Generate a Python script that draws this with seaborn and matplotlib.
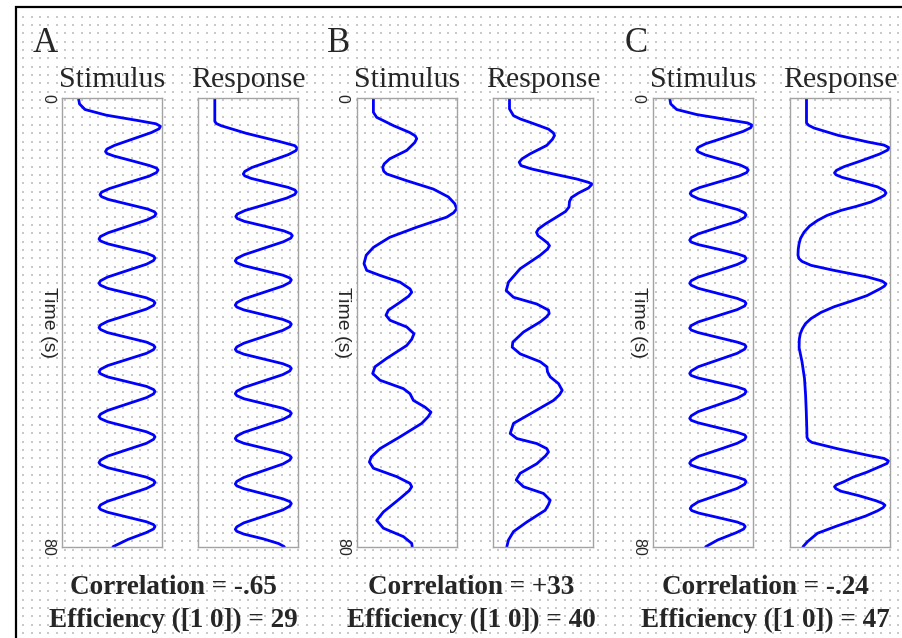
import numpy as np
import pandas as pd
import matplotlib
matplotlib.use("Agg")
import matplotlib.pyplot as plt
import seaborn as sns

# ---------------------------------------------------------------------------
# Time courses (time in s, signal in arbitrary units on a 0-100 scale)
# ---------------------------------------------------------------------------

# Design A: fast regular alternation
stim_a_t = [0, 1.0, 2.0, 3.0, 4.0, 4.55, 5.0,
            5.45, 6.1, 7.25, 8.4, 9.05, 9.5,
            9.85, 10.3, 11.15, 12.0, 12.45, 12.8,
            13.25, 13.9, 15.0, 16.1, 16.75, 17.2,
            17.55, 18.05, 18.9, 19.75, 20.25, 20.6,
            21.05, 21.7, 22.85, 24.0, 24.65, 25.1,
            25.45, 25.95, 26.8, 27.65, 28.15, 28.5,
            28.95, 29.6, 30.75, 31.9, 32.55, 33.0,
            33.35, 33.9, 34.75, 35.6, 36.15, 36.5,
            36.95, 37.6, 38.7, 39.8, 40.45, 40.9,
            41.25, 41.8, 42.65, 43.5, 44.05, 44.4,
            44.85, 45.5, 46.6, 47.7, 48.35, 48.8,
            49.15, 49.7, 50.55, 51.4, 51.95, 52.3,
            52.75, 53.4, 54.55, 55.7, 56.35, 56.8,
            57.15, 57.7, 58.6, 59.5, 60.05, 60.4,
            60.85, 61.55, 62.7, 63.85, 64.55, 65.0,
            65.35, 65.9, 66.75, 67.6, 68.15, 68.5,
            68.95, 69.6, 70.75, 71.9, 72.55, 73.0,
            73.35, 73.85, 74.7, 75.55, 76.05, 76.4,
            76.85, 77.5, 78.7, 80.0]
stim_a_v = [16.5, 17.5, 23, 44, 77, 94, 98.5,
            97, 89.5, 71, 52.5, 45, 43.5,
            45, 52, 70, 87.5, 94.5, 96,
            94.5, 87, 67, 47.5, 39.5, 38,
            39.5, 46.5, 66, 85.5, 92.5, 94,
            92.5, 85, 65.5, 46, 38.5, 37,
            38.5, 45.5, 65, 84.5, 91.5, 93,
            91.5, 84.5, 65, 45.5, 38.5, 37,
            38.5, 45.5, 65, 84.5, 91.5, 93,
            91.5, 84.5, 65, 45.5, 38.5, 37,
            38.5, 45.5, 65, 84.5, 91.5, 93,
            91.5, 84.5, 65, 45.5, 38.5, 37,
            38.5, 45.5, 65, 84.5, 91.5, 93,
            91.5, 84.5, 65, 45.5, 38.5, 37,
            38.5, 45.5, 65, 84.5, 91.5, 93,
            91.5, 84.5, 65, 45.5, 38.5, 37,
            38.5, 45.5, 65, 84.5, 91.5, 93,
            91.5, 84.5, 65, 45.5, 38.5, 37,
            38.5, 45.5, 65, 84.5, 91.5, 93,
            91.5, 84, 66, 51]

resp_a_t = [0, 4.1, 4.5, 4.9, 6.25, 7.7, 8.45, 8.9,
            9.35, 10.05, 11.2, 12.35, 13.05, 13.5,
            13.85, 14.3, 15.1, 15.9, 16.35, 16.7,
            17.15, 17.8, 18.9, 20.0, 20.65, 21.1,
            21.45, 21.95, 22.8, 23.65, 24.15, 24.5,
            24.95, 25.6, 26.75, 27.9, 28.55, 29.0,
            29.35, 29.85, 30.7, 31.55, 32.05, 32.4,
            32.85, 33.5, 34.65, 35.8, 36.45, 36.9,
            37.25, 37.75, 38.6, 39.45, 39.95, 40.3,
            40.75, 41.4, 42.55, 43.7, 44.35, 44.8,
            45.15, 45.65, 46.5, 47.35, 47.85, 48.2,
            48.65, 49.3, 50.45, 51.6, 52.25, 52.7,
            53.05, 53.6, 54.45, 55.3, 55.85, 56.2,
            56.65, 57.3, 58.45, 59.6, 60.25, 60.7,
            61.05, 61.55, 62.4, 63.25, 63.75, 64.1,
            64.55, 65.25, 66.45, 67.65, 68.35, 68.8,
            69.15, 69.65, 70.55, 71.45, 71.95, 72.3,
            72.75, 73.45, 74.6, 75.75, 76.45, 76.9,
            77.25, 77.75, 78.6, 79.45, 80.0]
resp_a_v = [16.5, 16.5, 18, 23, 48, 81, 96.5, 99,
            97.5, 90, 72, 53.5, 46.5, 45,
            46.5, 53, 71.5, 90, 96.5, 98,
            96.5, 88.5, 68, 47, 39, 37.5,
            39, 46, 66, 85.5, 92.5, 94,
            92.5, 85, 65.5, 46, 38.5, 37,
            38.5, 45.5, 65, 84.5, 91.5, 93,
            91.5, 84.5, 65, 45.5, 38.5, 37,
            38.5, 45.5, 65, 84.5, 91.5, 93,
            91.5, 84.5, 65, 45.5, 38.5, 37,
            38.5, 45.5, 65, 84.5, 91.5, 93,
            91.5, 84.5, 65, 45.5, 38.5, 37,
            38.5, 45.5, 65, 84.5, 91.5, 93,
            91.5, 84.5, 65, 45.5, 38.5, 37,
            38.5, 45.5, 65, 84.5, 91.5, 93,
            91.5, 84.5, 65, 45.5, 38.5, 37,
            38.5, 45.5, 65, 84.5, 91.5, 93,
            91.5, 84.5, 65, 45.5, 38.5, 37,
            38.5, 45.5, 65, 80.5, 86]

# Design B: irregular stimulus
stim_b_t = [0, 2.5, 3.4, 4.1, 4.9, 6.1, 6.7, 7.2, 7.9, 9.3, 10.8, 11.7,
            12.3, 13.0, 13.5, 14.7, 16.2, 17.6, 18.8, 19.7, 20.4, 21.2,
            23.0, 24.8, 26.6, 28.0, 29.5, 30.7, 31.6, 32.8, 34.0, 34.6,
            35.3, 36.4, 37.8, 38.7, 39.6, 40.8, 42.0, 43.0, 44.1, 46.4,
            47.9, 49.1, 50.3, 51.8, 52.7, 53.9, 55.1, 56.0, 56.8, 58.0,
            60.4, 62.5, 64.0, 64.9, 66.0, 67.5, 68.7, 69.3, 70.0, 71.4,
            73.8, 75.3, 76.7, 78.2, 79.4, 80.0]
stim_b_v = [16.7, 16.7, 20, 28, 37, 53, 58.5, 60, 58, 50, 33, 27.5,
            26, 27, 30, 50, 76.7, 91.7, 98, 100, 97, 90,
            60, 33, 16.7, 9.5, 7.3, 10, 23.3, 43.3, 53.3, 55,
            52, 43.3, 31.7, 29.3, 33.3, 50, 57.3, 55, 50, 30,
            18.3, 16, 23.3, 46.7, 53.3, 56.7, 68.3, 74.3, 71.5, 65,
            43.3, 23.3, 14.5, 12.7, 16.7, 40, 53.3, 55, 52.5, 43.3,
            26.7, 20, 26.7, 46.7, 55, 55.5]

resp_b_t = [0, 1.9, 3.1, 3.7, 4.3, 5.5, 6.2, 6.65, 7.3, 8.4, 9.9, 10.8,
            11.4, 12.0, 12.6, 13.5, 14.4, 15.0, 15.3, 16.0, 16.9, 17.7,
            18.4, 19.4, 20.2, 21.2, 22.4, 23.3, 23.9, 24.5, 25.1, 25.8,
            26.3, 26.9, 28.0, 30.4, 32.8, 34.3, 35.5, 36.7, 37.8, 38.4,
            39.0, 39.9, 41.7, 43.5, 44.4, 45.6, 47.0, 47.9, 48.8, 49.7,
            50.9, 52.1, 52.9, 53.9, 56.3, 58.0, 59.8, 60.7, 61.6, 62.5,
            63.1, 63.8, 65.2, 66.9, 68.1, 69.3, 70.5, 71.7, 72.5, 73.5,
            75.6, 77.3, 78.8, 80.0]
resp_b_v = [16, 16, 20, 27, 36.7, 55, 60, 61, 59, 53.3, 36.7, 28.5,
            25.7, 27.5, 38, 60, 83.3, 95, 98.7, 95, 85, 78,
            76, 75.5, 72, 63, 52, 45, 43, 44.5, 49, 54,
            56, 54, 46.7, 26.7, 15, 12.7, 20, 43.3, 55, 55.7,
            53, 46.7, 30, 19.3, 18.7, 26.7, 46.7, 53.3, 54, 56.7,
            65, 68.7, 66, 60, 36.7, 20, 16.7, 23.3, 43.3, 53.3,
            55, 52, 43.3, 26.7, 22.7, 30, 50, 56.7, 55, 51.7,
            33.3, 20, 15, 13.3]

# Design C: regular stimulus, saturating response
stim_c_t = [0, 1.0, 2.0, 2.9, 3.9, 4.4, 4.8,
            5.25, 5.9, 7.0, 8.1, 8.75, 9.2,
            9.55, 10.1, 11.0, 11.9, 12.45, 12.8,
            13.25, 13.85, 14.9, 15.95, 16.55, 17.0,
            17.35, 17.95, 18.9, 19.85, 20.45, 20.8,
            21.25, 21.95, 23.05, 24.2, 24.85, 25.3,
            25.65, 26.1, 26.9, 27.75, 28.2, 28.55,
            29.0, 29.65, 30.8, 31.9, 32.55, 33.0,
            33.35, 33.9, 34.8, 35.7, 36.25, 36.6,
            37.05, 37.7, 38.8, 39.9, 40.55, 41.0,
            41.35, 41.8, 42.65, 43.5, 43.95, 44.3,
            44.75, 45.5, 46.7, 47.9, 48.65, 49.1,
            49.45, 49.9, 50.7, 51.5, 51.95, 52.3,
            52.75, 53.5, 54.7, 55.9, 56.65, 57.1,
            57.45, 57.9, 58.75, 59.6, 60.05, 60.4,
            60.85, 61.55, 62.75, 63.9, 64.65, 65.1,
            65.45, 65.9, 66.75, 67.6, 68.05, 68.4,
            68.85, 69.6, 70.8, 72.0, 72.75, 73.2,
            73.55, 74.0, 74.8, 75.6, 76.05, 76.4,
            76.85, 77.5, 78.8, 80.0]
stim_c_v = [17, 18, 24, 44, 78, 95, 99.5,
            98, 90.5, 72, 53, 45.5, 44,
            45.5, 52.5, 70, 87.5, 94, 95.5,
            94, 86.5, 66.5, 46.5, 39, 37.5,
            39, 46, 65.5, 85, 92, 93.3,
            92, 85, 65, 45.5, 38.5, 37,
            38.5, 45.5, 65, 84.5, 92, 93.3,
            92, 84.5, 65, 45.5, 38.5, 37,
            38.5, 45.5, 65, 84.5, 92, 93.3,
            92, 84.5, 65, 45.5, 38.5, 37,
            38.5, 45.5, 65, 84.5, 92, 93.3,
            92, 84.5, 65, 45.5, 38.5, 37,
            38.5, 45.5, 65, 84.5, 92, 93.3,
            92, 84.5, 65, 45.5, 38.5, 37,
            38.5, 45.5, 65, 84.5, 92, 93.3,
            92, 84.5, 65, 45.5, 38.5, 37,
            38.5, 45.5, 65, 84.5, 92, 93.3,
            92, 84.5, 65, 45.5, 39, 37.5,
            39, 46, 65.5, 84.5, 91, 92.5,
            91, 83.5, 65, 53]

resp_c_t = [0, 4.4, 4.8, 5.3, 6.6, 7.8, 8.35, 8.8,
            9.25, 9.95, 11.1, 12.2, 12.85, 13.3,
            13.65, 14.1, 14.95, 15.8, 16.45, 16.9,
            17.3, 17.7, 18.5, 19.3, 20.0, 20.9, 21.8, 22.8, 23.9, 25.0,
            26.0, 27.0, 28.0, 28.6, 29.1, 29.8, 30.7, 31.9, 32.6, 33.1,
            33.5, 34.0, 35.2, 36.2, 37.2, 38.2, 39.3, 40.2, 41.1, 42.0,
            43.0, 44.5, 47.0, 50.0, 53.0, 56.0, 58.9, 60.5, 61.0, 61.4,
            62.5, 63.7, 64.25, 64.7, 65.15, 65.7, 66.7, 67.6, 68.4,
            68.95, 69.3, 69.65, 70.1, 70.9, 71.8, 72.25, 72.6, 73.05,
            73.6, 74.5, 75.5, 76.3, 77.6, 79.1, 80.0]
resp_c_v = [16.5, 16.5, 18.5, 24, 48, 78, 94, 99,
            97.5, 89.5, 72, 54, 46.5, 44.5,
            46, 52, 70, 87.5, 94.5, 96,
            94.5, 90.5, 81, 66, 51, 37, 27.5, 19.5, 14, 10.5,
            9, 8.2, 8, 9, 12, 21, 44, 78, 92, 96,
            94.5, 90, 77, 61, 44, 31, 21, 15.5, 12.4, 10.3,
            9.3, 9.1, 12, 14.5, 15.6, 16.3, 16.8, 17, 18.5, 22,
            47, 78, 94, 98.5, 97, 90, 77, 63, 54,
            46.5, 44.5, 46, 51, 69, 86, 92.5, 95, 93,
            87.5, 76, 60, 47, 27.5, 17.5, 13]

panel_labels = ["A", "B", "C"]
correlations = ["-.65", "+33", "-.24"]
efficiencies = ["29", "40", "47"]
time_ticks = [0, 80]

# ---------------------------------------------------------------------------
# Figure
# ---------------------------------------------------------------------------
sns.set_theme(style="white")
plt.rcParams["font.family"] = ["Liberation Serif", "DejaVu Serif"]

W, H = 903, 638
fig = plt.figure(figsize=(W / 100, H / 100), dpi=100, facecolor="white")

# Backdrop in pixel units: dotted grid paper and the outer frame
bg = fig.add_axes([0, 0, 1, 1], zorder=0)
bg.set_xlim(0, W)
bg.set_ylim(H, 0)
bg.axis("off")
gx, gy = np.meshgrid(np.arange(23.3, W, 8.33), np.arange(16.7, H, 8.33))
bg.scatter(gx.ravel(), gy.ravel(), s=0.8, marker="s", color="#c9c9c9",
           linewidths=0)
bg.plot([16, 16, W + 5], [H + 5, 7, 7], color="black", lw=1.6,
        solid_joinstyle="miter")

series = [
    (stim_a_t, stim_a_v, resp_a_t, resp_a_v),
    (stim_b_t, stim_b_v, resp_b_t, resp_b_v),
    (stim_c_t, stim_c_v, resp_c_t, resp_c_v),
]

# Layout (pixels)
stim_left = [62, 356.7, 652.7]
resp_left = [198.3, 493.5, 790]
letter_x = [33, 327, 625]
caption_x = [173, 471, 765]
ax_top, ax_bottom, ax_w = 98.3, 546.7, 100

line_color = "#0000ff"
frame_color = "#a3a3a3"


def make_axes(left):
    ax = fig.add_axes([left / W, 1 - ax_bottom / H, ax_w / W,
                       (ax_bottom - ax_top) / H], zorder=2)
    ax.set_facecolor("none")
    for sp in ax.spines.values():
        sp.set_color(frame_color)
        sp.set_linewidth(1.0)
        sp.set_visible(True)
    return ax


for i, (st, sv, rt, rv) in enumerate(series):
    # stimulus
    ax = make_axes(stim_left[i])
    df = pd.DataFrame({"time": st, "signal": sv})
    sns.lineplot(data=df, x="signal", y="time", orient="y", sort=True,
                 estimator=None, color=line_color, lw=2.0, ax=ax)
    ax.set_xlim(0, 100)
    ax.set_ylim(80, 0)
    ax.set_xticks([])
    ax.set_xlabel("")
    ax.set_yticks(time_ticks)
    ax.set_yticklabels([str(v) for v in time_ticks], rotation=-90,
                       va="center", family="Liberation Sans", fontsize=11.5)
    ax.tick_params(axis="y", length=0, pad=5)
    ax.set_ylabel("Time (s)", rotation=-90, family="Liberation Sans",
                  fontsize=14, va="center", ha="center")
    ax.yaxis.set_label_coords(-0.14, 0.5)
    ax.set_title("Stimulus", fontsize=21.5, pad=8)

    # response
    ax = make_axes(resp_left[i])
    df = pd.DataFrame({"time": rt, "signal": rv})
    sns.lineplot(data=df, x="signal", y="time", orient="y", sort=True,
                 estimator=None, color=line_color, lw=2.0, ax=ax)
    ax.set_xlim(0, 100)
    ax.set_ylim(80, 0)
    ax.set_xticks([])
    ax.set_yticks([])
    ax.set_xlabel("")
    ax.set_ylabel("")
    ax.set_title("Response", fontsize=21.5, pad=8)

    # panel letter and summary statistics
    fig.text(letter_x[i] / W, 1 - 52 / H, panel_labels[i], fontsize=25,
             ha="left", va="baseline")
    fig.text(caption_x[i] / W, 1 - 594 / H,
             f"Correlation = {correlations[i]}", fontsize=19.5,
             fontweight="bold", ha="center", va="baseline")
    fig.text(caption_x[i] / W, 1 - 627 / H,
             f"Efficiency ([1 0]) = {efficiencies[i]}", fontsize=19.5,
             fontweight="bold", ha="center", va="baseline")

fig.savefig("out.png", dpi=100, facecolor="white")
